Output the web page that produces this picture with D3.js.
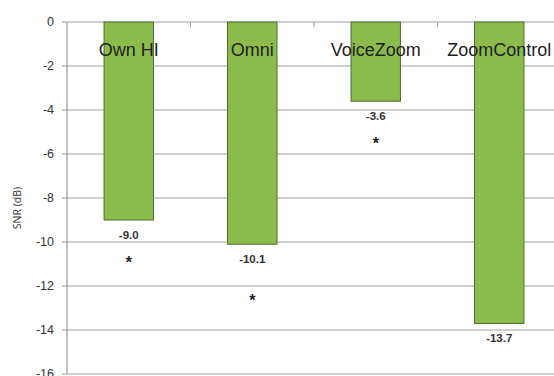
<!DOCTYPE html>
<html>
<head>
<meta charset="utf-8">
<script src="https://cdn.jsdelivr.net/npm/d3@7"></script>
<style>
  body { margin: 0; background: #fff; }
  svg { display: block; font-family: "Liberation Sans", Arial, sans-serif; }
</style>
</head>
<body>
<div id="chart"></div>
<script>
// Data
const categories = ['Own HI', 'Omni', 'VoiceZoom', 'ZoomControl'];
const snrValues = [-9.0, -10.1, -3.6, -13.7];
const significant = [true, true, true, false];
const yTicks = [0, -2, -4, -6, -8, -10, -12, -14, -16];

const width = 554;
const height = 376;
const margin = { top: 22, left: 67, right: -7, bottom: 2 };

const svg = d3.select('#chart')
    .append('svg')
    .attr('width', width)
    .attr('height', height);

const x = d3.scaleBand()
    .domain(categories)
    .range([margin.left, width - margin.right])
    .paddingInner(0.6)
    .paddingOuter(0.3);

const y = d3.scaleLinear()
    .domain([0, -16])
    .range([margin.top, height - margin.bottom]);

// Gridlines
svg.append('g')
    .selectAll('line')
    .data(yTicks)
    .enter()
    .append('line')
    .attr('x1', margin.left - 5)
    .attr('x2', width - margin.right)
    .attr('y1', d => y(d))
    .attr('y2', d => y(d))
    .attr('stroke', '#a0a0a0')
    .attr('stroke-width', 1);

// Y axis line
svg.append('line')
    .attr('x1', margin.left)
    .attr('x2', margin.left)
    .attr('y1', y(0))
    .attr('y2', y(-16))
    .attr('stroke', '#8a8a8a');

// Y tick labels
svg.append('g')
    .selectAll('text')
    .data(yTicks)
    .enter()
    .append('text')
    .attr('x', margin.left - 13)
    .attr('y', d => y(d))
    .attr('dy', '0.35em')
    .attr('text-anchor', 'end')
    .attr('font-size', '12.5px')
    .attr('fill', '#333')
    .text(d => d);

// Y axis title
svg.append('text')
    .attr('transform', `translate(21, ${(y(0) + y(-16)) / 2 + 10}) rotate(-90)`)
    .attr('text-anchor', 'middle')
    .attr('font-family', '"Open Sans", sans-serif')
    .attr('font-size', '10.5px')
    .attr('fill', '#333')
    .text('SNR (dB)');

// Bars
svg.append('g')
    .selectAll('rect')
    .data(categories)
    .enter()
    .append('rect')
    .attr('x', d => x(d))
    .attr('y', y(0))
    .attr('width', x.bandwidth())
    .attr('height', (d, i) => y(snrValues[i]) - y(0))
    .attr('fill', '#8bbb4b')
    .attr('stroke', '#4d6b2c')
    .attr('stroke-width', 1);

// Category tick marks on the zero line
const step = x.step();
svg.append('g')
    .selectAll('line')
    .data(categories.slice(1))
    .enter()
    .append('line')
    .attr('x1', d => x(d) - step * 0.3)
    .attr('x2', d => x(d) - step * 0.3)
    .attr('y1', y(0))
    .attr('y2', y(0) + 5)
    .attr('stroke', '#a0a0a0');

// Category labels
svg.append('g')
    .selectAll('text')
    .data(categories)
    .enter()
    .append('text')
    .attr('x', d => x(d) + x.bandwidth() / 2)
    .attr('y', 55.5)
    .attr('text-anchor', 'middle')
    .attr('font-size', '18px')
    .attr('fill', '#1e1e1e')
    .text(d => d);

// Value labels
svg.append('g')
    .selectAll('text')
    .data(categories)
    .enter()
    .append('text')
    .attr('x', d => x(d) + x.bandwidth() / 2)
    .attr('y', (d, i) => y(snrValues[i]) + 15)
    .attr('dy', '0.35em')
    .attr('text-anchor', 'middle')
    .attr('font-size', '11.5px')
    .attr('font-weight', 'bold')
    .attr('fill', '#333')
    .text((d, i) => snrValues[i].toFixed(1));

// Significance asterisks
svg.append('g')
    .selectAll('text')
    .data(categories.filter((d, i) => significant[i]))
    .enter()
    .append('text')
    .attr('x', d => x(d) + x.bandwidth() / 2)
    .attr('y', d => y(snrValues[categories.indexOf(d)]) + (d === 'Omni' ? 56 : 42))
    .attr('dy', '0.35em')
    .attr('text-anchor', 'middle')
    .attr('font-size', '16px')
    .attr('font-weight', 'bold')
    .attr('fill', '#222')
    .text('*');
</script>
</body>
</html>
